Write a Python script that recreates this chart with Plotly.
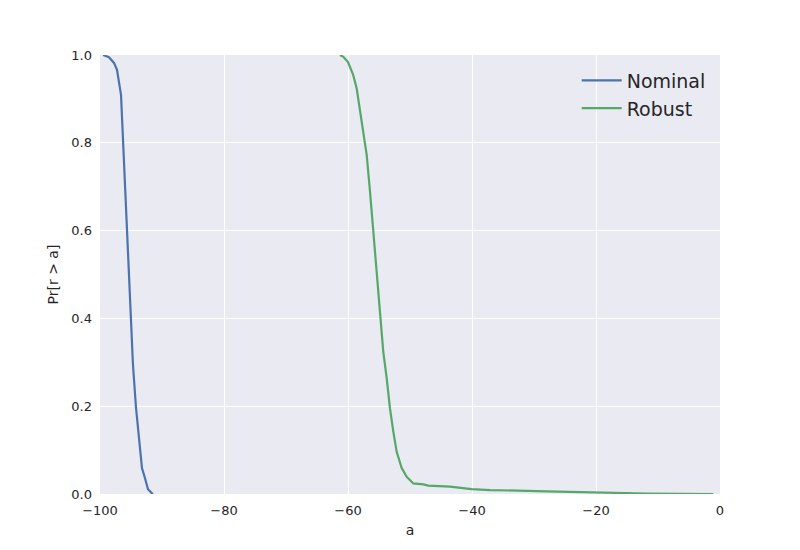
import plotly.graph_objs as go

nominal_a = [-99.5, -98.55, -97.74, -97.26, -96.61, -96.24, -95.97, -95.6, -95.32,
             -95.05, -94.68, -94.19, -93.66, -93.23, -92.74, -92.26, -91.66, -91.45]
nominal_p = [1.0, 0.995, 0.982, 0.966, 0.909, 0.795, 0.692, 0.597, 0.499,
             0.401, 0.294, 0.196, 0.112, 0.059, 0.036, 0.011, 0.002, 0.0]

robust_a = [-61.29, -60.76, -60.0, -59.15, -58.6, -58.06, -57.53, -56.98, -56.45,
            -55.92, -55.37, -54.84, -54.31, -53.76, -53.23, -52.69, -52.15, -51.34,
            -50.53, -49.47, -47.85, -47.05, -43.55, -40.05, -37.1, -27.95, -19.89,
            -11.82, -1.08]
robust_p = [1.0, 0.996, 0.984, 0.954, 0.924, 0.875, 0.825, 0.772, 0.689,
            0.597, 0.506, 0.415, 0.324, 0.264, 0.195, 0.142, 0.096, 0.059,
            0.039, 0.024, 0.022, 0.019, 0.017, 0.011, 0.009, 0.006, 0.003,
            0.001, 0.0]

x_ticks = [-100, -80, -60, -40, -20, 0]
y_ticks = [0.0, 0.2, 0.4, 0.6, 0.8, 1.0]

fig = go.Figure()
fig.add_trace(go.Scatter(x=nominal_a, y=nominal_p, name='Nominal', mode='lines',
                         line=dict(color='#4C72B0', width=2.2)))
fig.add_trace(go.Scatter(x=robust_a, y=robust_p, name='Robust', mode='lines',
                         line=dict(color='#55A868', width=2.2)))

axis_common = dict(showgrid=True, gridcolor='white', gridwidth=1.2, zeroline=False,
                   showline=False, ticks='', tickfont=dict(size=13, color='#262626'),
                   title_font=dict(size=14, color='#262626'))

# page body has an 8px margin, so margins are offset to land the plot area
fig.update_layout(
    width=800, height=550,
    margin=dict(l=92, r=88, t=47, b=64),
    paper_bgcolor='white', plot_bgcolor='#EAEAF2',
    font=dict(family='DejaVu Sans', color='#262626'),
    xaxis=dict(range=[-100, 0], tickvals=x_ticks, ticklabelstandoff=7,
               title=dict(text='a', standoff=8), **axis_common),
    yaxis=dict(range=[0, 1], tickvals=y_ticks, tickformat='.1f', ticklabelstandoff=7,
               title=dict(text='Pr[r > a]', standoff=9), **axis_common),
    legend=dict(x=0.985, y=0.985, xanchor='right', yanchor='top', bgcolor='rgba(0,0,0,0)',
                font=dict(size=19, color='#262626'), itemwidth=40),
    showlegend=True,
)

fig.write_html("out.html")
